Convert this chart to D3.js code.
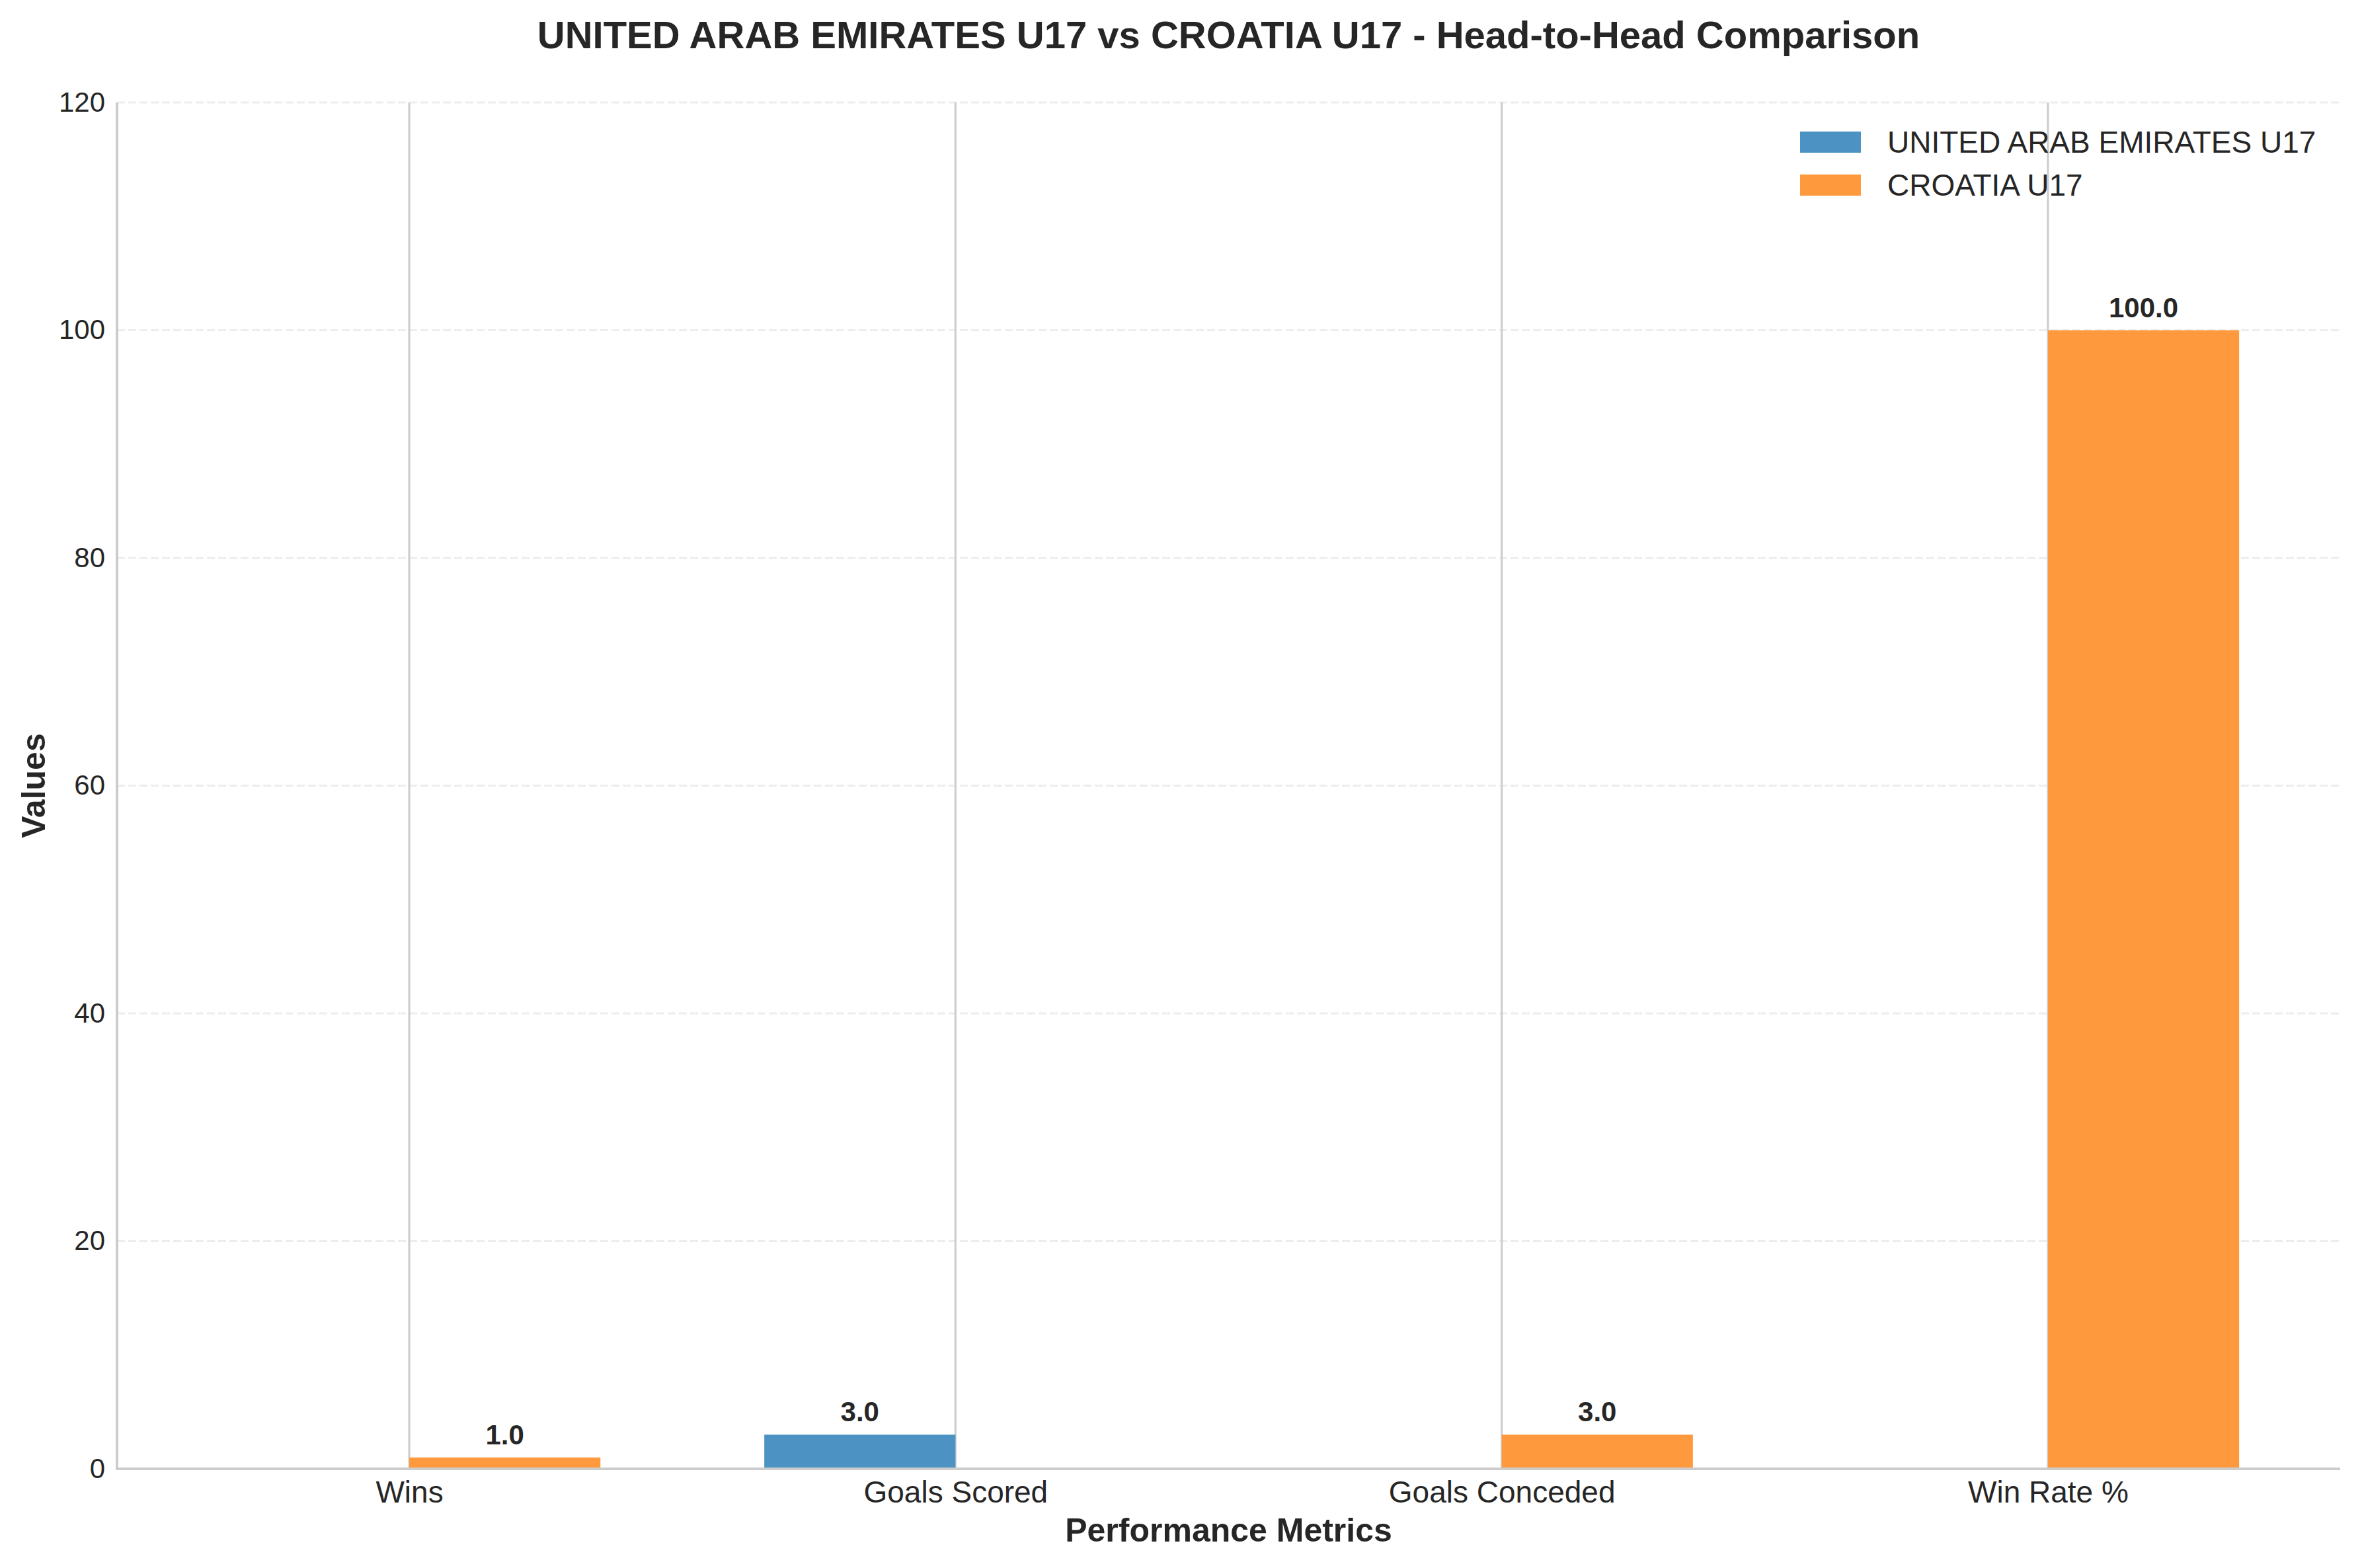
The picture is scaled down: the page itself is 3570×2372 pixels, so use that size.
<!DOCTYPE html>
<html>
<head>
<meta charset="utf-8">
<script src="https://cdn.jsdelivr.net/npm/d3@7"></script>
<style>
  body { margin: 0; background: #fff; }
  svg { display: block; font-family: "Liberation Sans", Arial, sans-serif; }
</style>
</head>
<body>
<div id="chart"></div>
<script>
const categories = ['Wins', 'Goals Scored', 'Goals Conceded', 'Win Rate %'];
const teams = ['UNITED ARAB EMIRATES U17', 'CROATIA U17'];
const uaeValues = [0, 3, 0, 0];
const croValues = [1, 0, 3, 100];
const yTicks = [0, 20, 40, 60, 80, 100, 120];

const width = 3570;
const height = 2372;
const margin = { top: 155, right: 30, bottom: 150, left: 177 };
const innerWidth = width - margin.left - margin.right;
const innerHeight = height - margin.top - margin.bottom;

const barWidth = 0.35;
const colors = ['#4c92c3', '#ff993e'];

// bars sit either side of the category tick, like matplotlib's align='edge'
const xScale = d3.scaleLinear()
  .domain([-0.535, categories.length - 1 + 0.535])
  .range([0, innerWidth]);

const yScale = d3.scaleLinear()
  .domain([0, 120])
  .range([innerHeight, 0]);

const svg = d3.select('#chart')
  .append('svg')
    .attr('width', width)
    .attr('height', height);

const inner = svg.append('g')
  .attr('transform', `translate(${margin.left}, ${margin.top})`);

// vertical grid at categories
inner.selectAll('.vgrid')
    .data(categories)
  .enter().append('line')
    .attr('class', 'vgrid')
    .attr('x1', (d, i) => xScale(i))
    .attr('x2', (d, i) => xScale(i))
    .attr('y1', 0)
    .attr('y2', innerHeight)
    .attr('stroke', '#cccccc')
    .attr('stroke-width', 3);

// horizontal dashed grid
inner.selectAll('.hgrid')
    .data(yTicks)
  .enter().append('line')
    .attr('class', 'hgrid')
    .attr('x1', 0)
    .attr('x2', innerWidth)
    .attr('y1', d => yScale(d))
    .attr('y2', d => yScale(d))
    .attr('stroke', '#cccccc')
    .attr('stroke-opacity', 0.35)
    .attr('stroke-width', 3)
    .attr('stroke-dasharray', '12,5');

const rows = [];
categories.forEach((c, i) => {
  rows.push({ i, team: 0, value: uaeValues[i], x0: i - barWidth });
  rows.push({ i, team: 1, value: croValues[i], x0: i });
});

inner.selectAll('.bar')
    .data(rows)
  .enter().append('rect')
    .attr('class', 'bar')
    .attr('x', d => xScale(d.x0))
    .attr('width', d => xScale(d.x0 + barWidth) - xScale(d.x0))
    .attr('y', d => yScale(d.value))
    .attr('height', d => innerHeight - yScale(d.value))
    .attr('fill', d => colors[d.team]);

inner.selectAll('.bar-label')
    .data(rows.filter(d => d.value > 0))
  .enter().append('text')
    .attr('class', 'bar-label')
    .attr('x', d => xScale(d.x0 + barWidth / 2))
    .attr('y', d => yScale(d.value) - 20)
    .attr('text-anchor', 'middle')
    .attr('font-size', 42)
    .attr('font-weight', 'bold')
    .attr('fill', '#262626')
    .text(d => d.value.toFixed(1));

// spines
inner.append('line')
  .attr('x1', 0).attr('x2', 0)
  .attr('y1', 0).attr('y2', innerHeight + 2)
  .attr('stroke', '#cccccc')
  .attr('stroke-width', 4);
inner.append('line')
  .attr('x1', -2).attr('x2', innerWidth)
  .attr('y1', innerHeight).attr('y2', innerHeight)
  .attr('stroke', '#cccccc')
  .attr('stroke-width', 4);

// y axis
const yAxis = d3.axisLeft(yScale)
  .tickValues(yTicks)
  .tickSize(0)
  .tickPadding(18);

inner.append('g')
  .attr('class', 'axis axis-y')
  .call(yAxis)
  .call(g => g.select('.domain').remove())
  .call(g => g.selectAll('text')
    .attr('font-size', 42)
    .attr('font-family', '"Liberation Sans", Arial, sans-serif')
    .attr('fill', '#262626'));

// x axis
const xAxis = d3.axisBottom(xScale)
  .tickValues(d3.range(categories.length))
  .tickFormat(i => categories[i])
  .tickSize(0)
  .tickPadding(18);

inner.append('g')
  .attr('class', 'axis axis-x')
  .attr('transform', `translate(0, ${innerHeight})`)
  .call(xAxis)
  .call(g => g.select('.domain').remove())
  .call(g => g.selectAll('text')
    .attr('font-size', 46)
    .attr('font-family', '"Liberation Sans", Arial, sans-serif')
    .attr('fill', '#262626'));

// axis labels
svg.append('text')
  .attr('x', margin.left + innerWidth / 2)
  .attr('y', 2332)
  .attr('text-anchor', 'middle')
  .attr('font-size', 50)
  .attr('font-weight', 'bold')
  .attr('fill', '#262626')
  .text('Performance Metrics');

svg.append('text')
  .attr('transform', `translate(68, ${margin.top + innerHeight / 2}) rotate(-90)`)
  .attr('text-anchor', 'middle')
  .attr('font-size', 50)
  .attr('font-weight', 'bold')
  .attr('fill', '#262626')
  .text('Values');

// title
svg.append('text')
  .attr('x', margin.left + innerWidth / 2)
  .attr('y', 73)
  .attr('text-anchor', 'middle')
  .attr('font-size', 58)
  .attr('font-weight', 'bold')
  .attr('fill', '#262626')
  .text(`${teams[0]} vs ${teams[1]} - Head-to-Head Comparison`);

// legend, no frame
const legend = svg.append('g')
  .attr('transform', 'translate(2723, 199)');

const items = legend.selectAll('.legend-item')
    .data(teams)
  .enter().append('g')
    .attr('class', 'legend-item')
    .attr('transform', (d, i) => `translate(0, ${i * 65})`);

items.append('rect')
  .attr('width', 92)
  .attr('height', 32)
  .attr('fill', (d, i) => colors[i]);

items.append('text')
  .attr('x', 132)
  .attr('y', 32)
  .attr('font-size', 46)
  .attr('fill', '#262626')
  .text(d => d);
</script>
</body>
</html>
